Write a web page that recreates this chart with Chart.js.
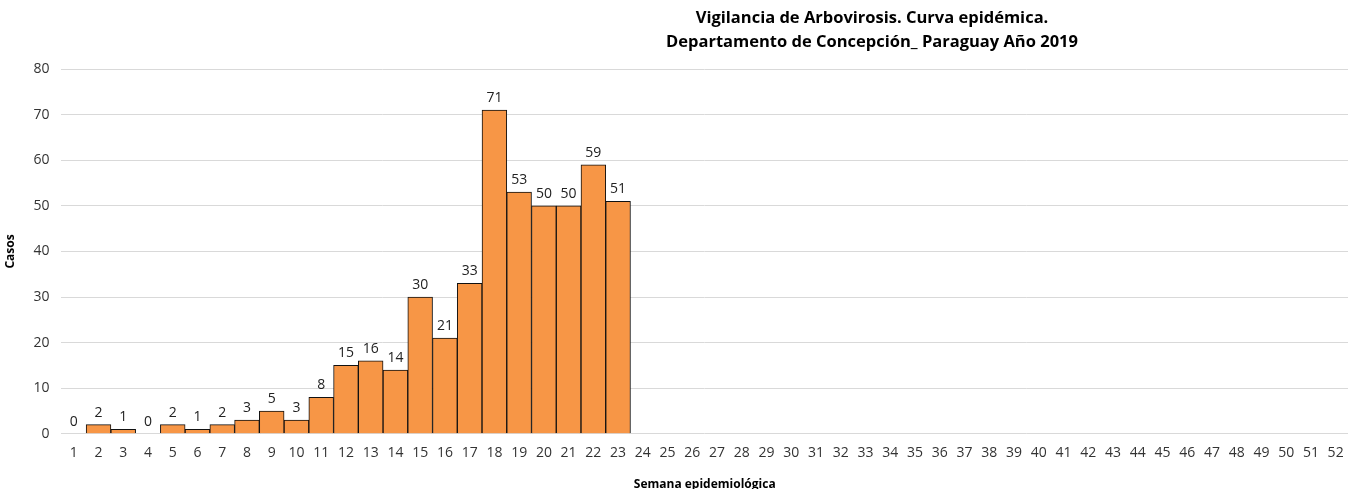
<!DOCTYPE html>
<html>
<head>
<meta charset="utf-8">
<script src="https://cdn.jsdelivr.net/npm/chart.js@4/dist/chart.umd.min.js"></script>
<style>
  html, body { margin: 0; padding: 0; background: #fff; }
  #wrap { width: 1348px; height: 489px; }
</style>
</head>
<body>
<div id="wrap"><canvas id="chart"></canvas></div>
<script>
// Datos: semanas epidemiológicas y casos (semanas 24-52 sin datos)
var semanas = [];
for (let i = 1; i <= 52; i++) semanas.push(String(i));
var casos = [0, 2, 1, 0, 2, 1, 2, 3, 5, 3, 8, 15, 16, 14, 30, 21, 33, 71, 53, 50, 50, 59, 51];
var titulo = ['Vigilancia de Arbovirosis. Curva epidémica.', 'Departamento de Concepción_ Paraguay Año 2019'];
var yTicks = [0, 10, 20, 30, 40, 50, 60, 70, 80];

var fuente = '"Open Sans", "Noto Sans", sans-serif';

// Titulo desplazado a la derecha, como en el original
var tituloPlugin = {
  id: 'tituloPlugin',
  afterDraw(chart) {
    let ctx = chart.ctx;
    ctx.save();
    ctx.font = 'bold 16.5px ' + fuente;
    ctx.fillStyle = '#000';
    ctx.textAlign = 'center';
    ctx.textBaseline = 'middle';
    ctx.fillText(titulo[0], 872, 18);
    ctx.fillText(titulo[1], 872, 42);
    ctx.restore();
  }
};

// Etiquetas de valor encima de cada barra
var etiquetasPlugin = {
  id: 'etiquetasPlugin',
  afterDatasetsDraw(chart) {
    let ctx = chart.ctx;
    let meta = chart.getDatasetMeta(0);
    ctx.save();
    ctx.font = '14px ' + fuente;
    ctx.fillStyle = '#222';
    ctx.textAlign = 'center';
    ctx.textBaseline = 'bottom';
    meta.data.forEach((bar, i) => {
      let v = casos[i];
      if (v === undefined || v === null) return;
      ctx.fillText(String(v), bar.x, bar.y - 5);
    });
    ctx.restore();
  }
};

new Chart(document.getElementById('chart'), {
  type: 'bar',
  data: {
    labels: semanas,
    datasets: [{
      label: 'Casos',
      data: casos,
      backgroundColor: '#F79646',
      borderColor: '#111',
      borderWidth: 1,
      categoryPercentage: 1,
      barPercentage: 1
    }]
  },
  options: {
    responsive: true,
    maintainAspectRatio: false,
    animation: false,
    layout: { padding: { top: 69, right: 0, left: 3, bottom: 0 } },
    plugins: {
      legend: { display: false },
      tooltip: { enabled: false }
    },
    scales: {
      x: {
        grid: { display: false },
        border: { display: false },
        ticks: { color: '#333', font: { family: fuente, size: 14 }, autoSkip: false, maxRotation: 0, padding: 3 },
        title: { display: true, text: 'Semana epidemiológica', color: '#000', font: { family: fuente, size: 12, weight: 'bold' }, padding: { top: 13, bottom: -3 } }
      },
      y: {
        min: 0,
        max: 80,
        afterBuildTicks(axis) { axis.ticks = yTicks.map(v => ({ value: v })); },
        grid: { color: '#d9d9d9', lineWidth: 1, drawTicks: false },
        border: { display: false },
        ticks: { color: '#333', font: { family: fuente, size: 14 }, padding: 12 },
        title: { display: true, text: 'Casos', color: '#000', font: { family: fuente, size: 12, weight: 'bold' }, padding: { top: 0, bottom: 4 } }
      }
    }
  },
  plugins: [tituloPlugin, etiquetasPlugin]
});
</script>
</body>
</html>
